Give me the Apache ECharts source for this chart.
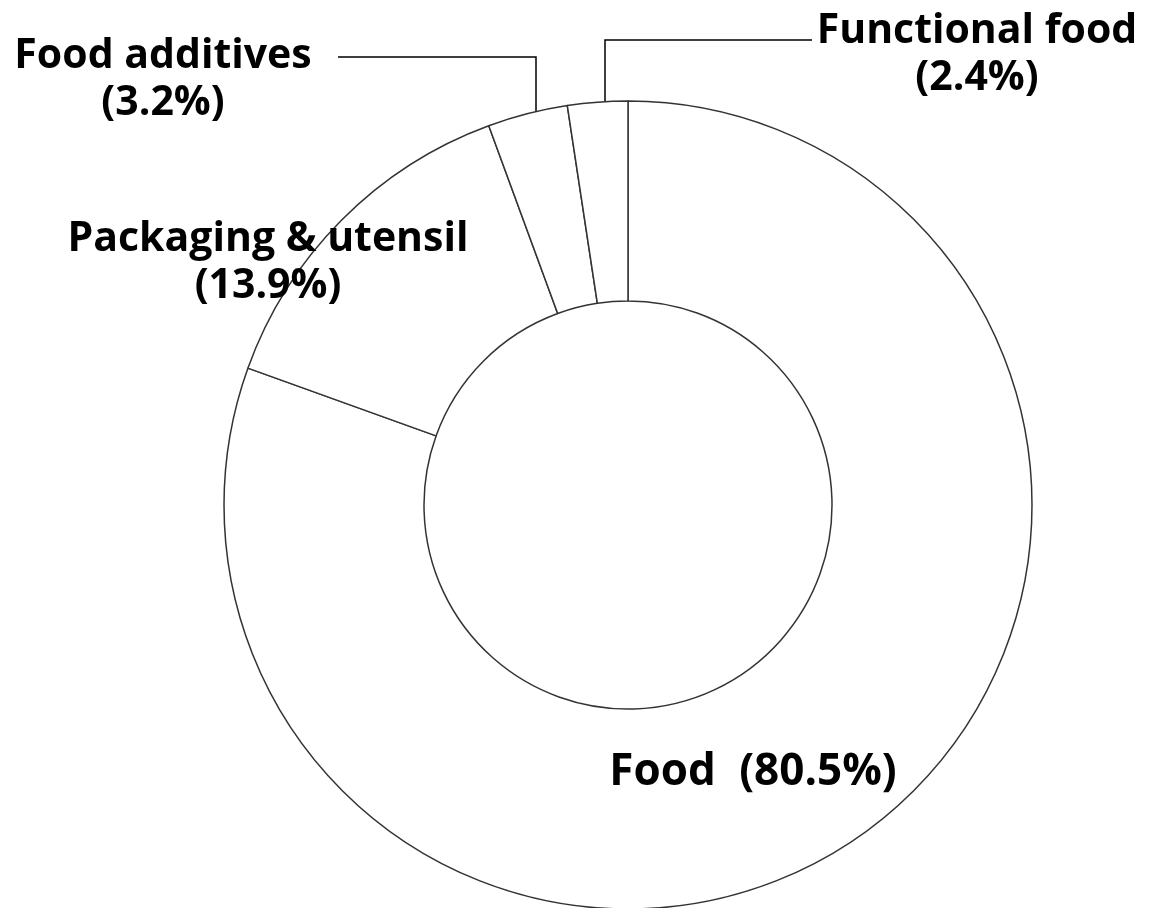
<!DOCTYPE html>
<html>
<head>
<meta charset="utf-8">
<script src="https://cdn.jsdelivr.net/npm/echarts@6/dist/echarts.min.js"></script>
<style>html,body{margin:0;padding:0;background:#fff;}#c{width:1149px;height:908px;}</style>
</head>
<body>
<div id="c"></div>
<script>
const categories = ['Food', 'Packaging & utensil', 'Food additives', 'Functional food'];
const shares = [80.5, 13.9, 3.2, 2.4];

const chart = echarts.init(document.getElementById('c'), null, {renderer: 'canvas'});
const labelPos = [
  {x: 753, y: 772, line: null},
  {x: 268, y: 263, line: null},
  {x: 163, y: 80, line: [[536, 148], [536, 57], [338, 57]]},
  {x: 977, y: 55, line: [[605, 125], [605, 40], [812, 40]]}
];
const data = categories.map((c, i) => ({
  name: c,
  value: shares[i],
  label: i === 0
    ? {formatter: '{n|{b}} ({c}%)', fontSize: 44, rich: {n: {fontSize: 44, fontWeight: 'bold', fontFamily: '"Open Sans", sans-serif', padding: [0, 12, 0, 0]}}}
    : {formatter: '{b}\n({c}%)'},
  labelLine: {show: !!labelPos[i].line}
}));

chart.setOption({
  animation: false,
  backgroundColor: '#fff',
  series: [{
    type: 'pie',
    center: [628, 505],
    radius: [204, 404],
    startAngle: 90,
    clockwise: true,
    avoidLabelOverlap: false,
    itemStyle: {color: '#fff', borderColor: '#333', borderWidth: 1.5},
    emphasis: {disabled: true},
    label: {
      show: true,
      position: 'outside',
      fontFamily: '"Open Sans", "Noto Sans", sans-serif',
      fontWeight: 'bold',
      fontSize: 41,
      lineHeight: 47,
      color: '#000',
      align: 'center'
    },
    labelLine: {lineStyle: {color: '#000', width: 1.5}, smooth: false},
    labelLayout: function (p) {
      const lp = labelPos[p.dataIndex];
      const r = {x: lp.x, y: lp.y, align: 'center', verticalAlign: 'middle'};
      if (lp.line) r.labelLinePoints = lp.line;
      return r;
    },
    data: data
  }]
});
</script>
</body>
</html>
